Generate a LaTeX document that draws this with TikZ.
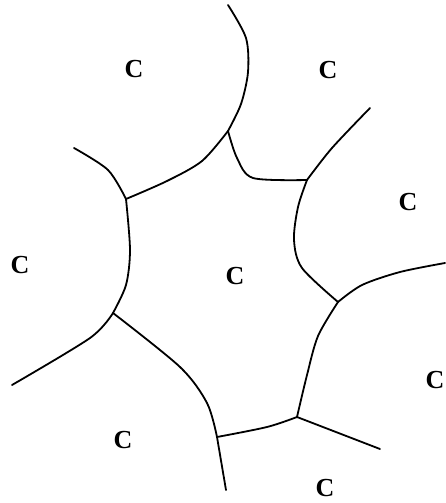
\documentclass[tikz,border=0pt]{standalone}
\usepackage{fontspec}
\setmainfont{Liberation Serif}
\tikzset{
  % confine tra le cellule
  wall/.style={line width=1.8pt, black, line cap=round, line join=round},
  % etichetta di una cellula
  cell/.style={font=\fontsize{26}{26}\selectfont\bfseries, inner sep=0pt},
}
\begin{document}
\begin{tikzpicture}[x=1pt, y=-1pt]
  \useasboundingbox (0,0) rectangle (445,503);
  % giunzioni
  \coordinate (j1) at (228,131);
  \coordinate (j2) at (126,199);
  \coordinate (j3) at (113,313);
  \coordinate (j4) at (307,180);
  \coordinate (j5) at (338,302);
  \coordinate (j6) at (297,417);
  \coordinate (j7) at (217,437);
  % estremi liberi
  \coordinate (top) at (228,5);
  \coordinate (nw) at (74,148);
  \coordinate (ne) at (370,108);
  \coordinate (east) at (445,263);
  \coordinate (sw) at (12,385);
  \coordinate (south) at (226,490);
  \coordinate (se) at (380,449);
  % cellula centrale
  \draw[wall] plot[smooth] coordinates {(j1) (202,161) (167,181) (j2)};
  \draw[wall] plot[smooth] coordinates {(j2) (130,250) (126,285) (j3)};
  \draw[wall] plot[smooth] coordinates {(j3) (180,367) (207,403) (j7)};
  \draw[wall] plot[smooth] coordinates {(j7) (267,427) (j6)};
  \draw[wall] plot[smooth] coordinates {(j6) (307,375) (318,336) (j5)};
  \draw[wall] plot[smooth] coordinates {(j5) (302,268) (294,240) (298,207) (j4)};
  \draw[wall] plot[smooth] coordinates {(j4) (253,178) (237,158) (j1)};
  % confini verso l'esterno
  \draw[wall] plot[smooth] coordinates {(top) (246,38) (248,72) (241,104) (j1)};
  \draw[wall] plot[smooth] coordinates {(j2) (108,170) (nw)};
  \draw[wall] plot[smooth] coordinates {(j4) (332,148) (ne)};
  \draw[wall] plot[smooth] coordinates {(j5) (362,285) (400,272) (east)};
  \draw[wall] plot[smooth] coordinates {(j3) (90,338) (sw)};
  \draw[wall] (j7) -- (south);
  \draw[wall] (j6) -- (se);
  % cellule
  \node[cell] (cnw) at (134,69) {C};
  \node[cell] (cne) at (328,70) {C};
  \node[cell] (ce) at (408,202) {C};
  \node[cell] (cw) at (20,265) {C};
  \node[cell] (cc) at (235,276) {C};
  \node[cell] (cse) at (435,380) {C};
  \node[cell] (csw) at (123,440) {C};
  \node[cell] (cs) at (325,488) {C};
\end{tikzpicture}
\end{document}
